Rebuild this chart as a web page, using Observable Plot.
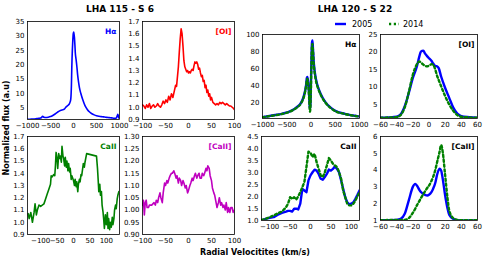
<!DOCTYPE html>
<html><head><meta charset="utf-8">
<script src="https://cdn.jsdelivr.net/npm/d3@7"></script>
<script src="https://cdn.jsdelivr.net/npm/@observablehq/plot@0.6"></script>
<style>
body{margin:0;background:#fff;}
#root{position:relative;width:489px;height:258px;overflow:hidden;font-family:"DejaVu Sans",sans-serif;}
.panel{position:absolute;}
.panel svg{overflow:visible;}
#overlay{position:absolute;left:0;top:0;}
</style></head><body><div id="root"></div>
<script>
// ---------- LHA 115 - S 6 ----------
const s6HaV = [-1000,-950,-900,-850,-800,-750,-700,-670,-640,-600,-550,-500,-450,-400,-350,-300,-250,-200,-160,-130,-100,-80,-60,-45,-37,-25,-15,-5,5,12,20,30,40,55,73,90,110,130,160,200,250,300,350,400,450,500,550,600,650,700,750,800,850,900,930,950,965,980,1000];
const s6HaF = [1.1,1.1,1.15,1.2,1.3,1.4,1.6,2.1,1.8,1.7,1.8,2.0,2.4,2.9,3.5,4.0,4.3,4.6,5.4,5.8,6.2,6.8,8.0,13,19,25,28.5,30.8,31.3,30.5,29.5,27,24,22,19.4,16.5,14,12,10,7.9,5.8,4.5,3.6,3.0,2.6,2.3,2.1,2.0,1.9,1.8,1.7,1.6,1.5,1.4,1.5,2.3,2.8,1.8,1.3];

const s6OiV = [-100,-97,-94,-91,-88,-85,-82,-79,-76,-73,-70,-67,-64,-61,-58,-55,-52,-49,-46,-43,-40,-37,-34,-31,-28,-26,-24,-22,-20,-18,-16,-14,-12,-10,-8,-6,-4,-2,0,2,4,6,8,10,12,14,16,18,20,22,24,26,28,30,32,34,36,38,40,42,44,46,48,50,53,56,59,62,65,68,71,74,77,80,83,86,89,92,95,98,100];
const s6OiF = [1.02,1.01,0.99,1.02,1.00,1.03,0.99,1.01,1.02,1.00,1.01,1.03,1.01,1.00,1.02,1.05,1.03,1.06,1.04,1.09,1.06,1.11,1.08,1.13,1.18,1.17,1.25,1.33,1.45,1.56,1.64,1.60,1.50,1.38,1.33,1.31,1.29,1.30,1.28,1.29,1.28,1.30,1.31,1.30,1.34,1.37,1.36,1.37,1.35,1.31,1.32,1.28,1.25,1.26,1.21,1.22,1.16,1.18,1.12,1.14,1.09,1.11,1.06,1.08,1.04,1.03,1.02,1.03,1.02,1.04,1.03,1.04,1.03,1.02,1.03,1.02,1.01,1.01,1.00,0.99,0.98];

const s6CaV = [-138,-135,-130,-125,-120,-117,-113,-110,-105,-100,-95,-90,-85,-80,-75,-70,-68,-65,-60,-57,-55,-53,-50,-48,-45,-42,-40,-37,-35,-32,-30,-27,-25,-22,-20,-17,-15,-12,-10,-7,-5,0,3,5,8,10,13,15,18,20,23,25,30,33,35,40,70,73,75,77,80,82,85,87,90,92,94,97,100,103,105,107,110,112,115,118,120,123,125,128,130,133,135,138];
const s6CaF = [1.07,1.03,1.08,1.00,1.08,1.15,1.06,1.10,1.14,1.13,1.14,1.15,1.19,1.23,1.27,1.31,1.38,1.37,1.39,1.38,1.46,1.57,1.52,1.44,1.56,1.52,1.54,1.49,1.62,1.54,1.52,1.46,1.53,1.45,1.50,1.42,1.48,1.41,1.44,1.35,1.38,1.34,1.30,1.35,1.29,1.33,1.25,1.31,1.35,1.33,1.39,1.38,1.48,1.45,1.49,1.56,1.54,1.44,1.35,1.25,1.31,1.22,1.25,1.14,1.08,1.02,0.95,1.06,0.98,1.08,0.95,1.03,0.94,1.00,0.96,1.04,0.98,1.03,1.10,1.14,1.11,1.19,1.22,1.25];

const s6CaiiV = [-100,-98,-96,-94,-92,-90,-87,-85,-80,-75,-72,-70,-67,-65,-62,-60,-57,-55,-52,-50,-47,-45,-42,-40,-37,-35,-32,-30,-27,-25,-22,-20,-17,-15,-12,-10,-7,-5,-2,0,3,5,8,10,13,15,18,20,23,25,28,30,33,35,38,40,42,45,47,50,52,55,57,60,62,65,67,70,72,75,77,80,82,85,87,90,92,95,97,100];
const s6CaiiF = [1.02,1.04,0.98,1.03,1.04,1.01,1.01,1.02,1.02,1.03,1.02,1.04,1.03,1.05,1.07,1.05,1.03,1.07,1.11,1.10,1.12,1.11,1.13,1.14,1.15,1.15,1.16,1.15,1.13,1.14,1.11,1.13,1.12,1.10,1.12,1.11,1.09,1.10,1.07,1.08,1.10,1.11,1.13,1.12,1.14,1.15,1.13,1.14,1.15,1.13,1.13,1.15,1.14,1.15,1.17,1.16,1.18,1.17,1.14,1.12,1.09,1.07,1.06,1.03,1.01,1.03,1.05,1.02,1.03,1.01,1.02,1.00,1.03,0.99,1.01,0.99,1.01,1.01,0.99,1.00];

// ---------- LHA 120 - S 22 ----------
const years = ["2005", "2014"];
const s22HaV = [-1000,-800,-600,-400,-300,-200,-150,-120,-100,-85,-75,-60,-45,-35,-25,-18,-10,0,10,20,30,40,60,80,100,150,200,300,400,500,700,1000];
const s22Ha2005 = [2.6,4.5,6.5,10.3,14,20,27,34,41,49,50,45,35,24,14,12,20,45,72,90,93,84,65,55,48,37,30,20,14,10,6.5,3.4];
const s22Ha2014 = [2.4,4.3,6.3,10,13.6,19.5,26,33,40,47,48,43,32,21,11,9,17,40,68,86,89,81,63,53,46,36,29,19.5,13.6,9.7,6.3,3.2];

const s22OiV = [-60,-50,-40,-35,-30,-25,-20,-15,-12,-10,-7,-5,-3,0,3,5,8,10,12,15,20,25,30,35,40,50,60];
const s22Oi2005 = [1.2,1.3,1.5,2.2,4.5,8.3,12.6,15.9,18.7,20.1,20.4,19.6,19.0,18.2,17.5,16.8,16.0,15.9,15.4,13,9.7,6.9,4.1,2.4,1.7,1.4,1.2];
const s22Oi2014 = [1.2,1.3,1.4,2.0,4.2,8.5,13.5,16.5,17.3,17.0,16.4,16.1,15.9,16.1,16.5,16.4,14.8,13.2,12.0,10.2,7.4,5.0,3.2,2.0,1.5,1.3,1.2];

const s22CaV = [-120,-110,-100,-90,-80,-70,-60,-55,-50,-45,-40,-35,-30,-25,-20,-15,-10,-5,0,5,10,15,20,25,30,35,40,45,50,55,60,65,70,75,80,85,90,95,100,105,110,115,120];
const s22Ca2005 = [1.0,1.07,1.11,1.14,1.24,1.32,1.37,1.40,1.40,1.37,1.49,1.49,1.46,1.70,2.32,2.25,2.18,2.67,2.88,3.01,3.12,3.08,2.94,2.74,2.70,2.81,2.94,3.12,3.08,3.15,3.26,3.15,3.01,2.67,2.32,1.97,1.76,1.67,1.70,1.76,1.90,2.07,2.25];
const s22Ca2014 = [1.02,1.07,1.14,1.21,1.30,1.37,1.55,1.70,1.97,1.90,1.97,1.87,2.01,2.18,2.39,2.60,3.22,3.87,3.82,3.64,3.78,3.43,3.15,2.88,2.81,3.01,3.29,3.60,3.50,3.36,3.29,3.22,3.01,2.74,2.25,1.97,1.70,1.63,1.63,1.70,1.83,2.01,2.18];

const s22CaiiV = [-60,-40,-35,-30,-25,-20,-17,-15,-12,-10,-5,-2,0,3,5,8,10,13,15,17,20,23,25,30,35,40,60];
const s22Caii2005 = [1.02,1.04,1.1,1.4,2.2,3.0,3.18,3.08,2.83,2.69,2.53,2.49,2.53,2.69,2.88,3.28,3.72,4.08,3.98,3.48,2.49,1.70,1.34,1.10,1.02,1.00,1.00];
const s22Caii2014 = [1.02,1.03,1.03,1.04,1.14,1.46,1.70,1.90,2.15,2.33,2.73,2.95,3.08,3.35,3.58,4.05,4.47,5.07,5.50,5.07,3.68,2.29,1.60,1.14,1.04,1.02,1.02];

// ---------- tick values & labels ----------
const ticksV1000 = [-1000,-500,0,500,1000];
const ticksV100 = [-100,-50,0,50,100];
const ticksV60 = [-60,-40,-20,0,20,40,60];
const ticksHaS6 = [5,10,15,20,25,30,35];
const ticksOiS6 = [0.9,1.0,1.1,1.2,1.3,1.4,1.5,1.6,1.7];
const ticksCaiiS6 = [0.90,0.95,1.00,1.05,1.10,1.15,1.20,1.25,1.30];
const ticksHaS22 = [20,40,60,80,100];
const ticksOiS22 = [5,10,15,20,25];
const ticksCaS22 = [1.0,1.5,2.0,2.5,3.0,3.5,4.0,4.5];
const ticksCaiiS22 = [1,2,3,4,5,6];
const titles = ["LHA 115 - S 6", "LHA 120 - S 22"];
const xTitle = "Radial Velocitites (km/s)";
const yTitle = "Normalized flux (a.u)";

// ---------- drawing ----------
const C = {blue:"#0000ff", green:"#008000", red:"#ff0000", magenta:"#bf00bf"};
const root = document.getElementById("root");
const minus = s => s.replace("-", "\u2212");
const fInt = d => minus(String(d));
const f1 = d => minus(d.toFixed(1));
const f2 = d => minus(d.toFixed(2));

function panel(o) {
  const ml = 30, mr = 12, mt = 6, mb = 16;
  const marks = [];
  for (const s of o.series) {
    const data = s.v.map((v, i) => ({v, f: s.f[i]}));
    marks.push(Plot.line(data, {x: "v", y: "f", stroke: s.color, strokeWidth: s.width,
      strokeDasharray: s.dash, curve: s.curve || "linear", clip: true}));
  }
  marks.push(Plot.frame({stroke: "#000", strokeWidth: 0.8}));
  marks.push(Plot.text([o.label], {text: d => d, frameAnchor: "top-right", dx: -3, dy: 7,
    fill: o.labelColor, fontWeight: "bold", fontSize: 7.5}));
  const chart = Plot.plot({
    width: o.w + ml + mr, height: o.h + mt + mb,
    marginLeft: ml, marginRight: mr, marginTop: mt, marginBottom: mb,
    x: {domain: o.xDomain, ticks: o.xTicks, tickFormat: fInt, label: null, tickSize: 0, tickPadding: 4},
    y: {domain: o.yDomain, ticks: o.yTicks, tickFormat: o.yFmt, label: null, tickSize: 0, tickPadding: 3},
    style: {fontFamily: "DejaVu Sans", fontSize: "7px", color: "#000", background: "transparent", overflow: "visible"},
    marks
  });
  const div = document.createElement("div");
  div.className = "panel";
  div.style.left = (o.left - ml) + "px";
  div.style.top = (o.top - mt) + "px";
  div.appendChild(chart);
  root.appendChild(div);
}

const LW = 1.6, RW = 2.4;
panel({left: 27, top: 21, w: 92, h: 98, xDomain: [-1000, 1000], yDomain: [1, 35], xTicks: ticksV1000, yTicks: ticksHaS6, yFmt: fInt,
  series: [{v: s6HaV, f: s6HaF, color: C.blue, width: LW, curve: "monotone-x"}], label: "Hα", labelColor: C.blue});
panel({left: 142, top: 21, w: 92, h: 98, xDomain: [-100, 100], yDomain: [0.9, 1.7], xTicks: ticksV100, yTicks: ticksOiS6, yFmt: f1,
  series: [{v: s6OiV, f: s6OiF, color: C.red, width: LW}], label: "[OI]", labelColor: C.red});
panel({left: 27, top: 136, w: 92, h: 98, xDomain: [-140, 140], yDomain: [0.9, 1.7], xTicks: ticksV100, yTicks: ticksOiS6, yFmt: f1,
  series: [{v: s6CaV, f: s6CaF, color: C.green, width: LW}], label: "CaII", labelColor: C.green});
panel({left: 142, top: 136, w: 92, h: 98, xDomain: [-100, 100], yDomain: [0.9, 1.3], xTicks: ticksV100, yTicks: ticksCaiiS6, yFmt: f2,
  series: [{v: s6CaiiV, f: s6CaiiF, color: C.magenta, width: LW}], label: "[CaII]", labelColor: C.magenta});

const dash = "2.2,2.6";
panel({left: 262, top: 34, w: 97, h: 84, xDomain: [-1000, 1000], yDomain: [1, 100], xTicks: ticksV1000, yTicks: ticksHaS22, yFmt: fInt,
  series: [{v: s22HaV, f: s22Ha2005, color: C.blue, width: RW, curve: "monotone-x"},
           {v: s22HaV, f: s22Ha2014, color: C.green, width: RW, dash, curve: "monotone-x"}], label: "Hα", labelColor: "#000"});
panel({left: 380, top: 34, w: 97, h: 84, xDomain: [-60, 60], yDomain: [1, 25], xTicks: ticksV60, yTicks: ticksOiS22, yFmt: fInt,
  series: [{v: s22OiV, f: s22Oi2005, color: C.blue, width: RW, curve: "monotone-x"},
           {v: s22OiV, f: s22Oi2014, color: C.green, width: RW, dash, curve: "monotone-x"}], label: "[OI]", labelColor: "#000"});
panel({left: 261, top: 136, w: 98, h: 84, xDomain: [-120, 120], yDomain: [1, 4.5], xTicks: ticksV100, yTicks: ticksCaS22, yFmt: f1,
  series: [{v: s22CaV, f: s22Ca2005, color: C.blue, width: RW},
           {v: s22CaV, f: s22Ca2014, color: C.green, width: RW, dash}], label: "CaII", labelColor: "#000"});
panel({left: 380, top: 136, w: 97, h: 84, xDomain: [-60, 60], yDomain: [1, 6], xTicks: ticksV60, yTicks: ticksCaiiS22, yFmt: fInt,
  series: [{v: s22CaiiV, f: s22Caii2005, color: C.blue, width: RW, curve: "monotone-x"},
           {v: s22CaiiV, f: s22Caii2014, color: C.green, width: RW, dash, curve: "monotone-x"}], label: "[CaII]", labelColor: "#000"});

// ---------- titles, axis labels, legend ----------
const NS = "http://www.w3.org/2000/svg";
const ov = document.createElementNS(NS, "svg");
ov.setAttribute("id", "overlay");
ov.setAttribute("width", 489); ov.setAttribute("height", 258);
ov.setAttribute("font-family", "DejaVu Sans");
function txt(x, y, s, attrs) {
  const t = document.createElementNS(NS, "text");
  t.setAttribute("x", x); t.setAttribute("y", y); t.textContent = s;
  for (const k in attrs) t.setAttribute(k, attrs[k]);
  ov.appendChild(t); return t;
}
function ln(x1, x2, y, stroke, dash) {
  const l = document.createElementNS(NS, "line");
  l.setAttribute("x1", x1); l.setAttribute("x2", x2); l.setAttribute("y1", y); l.setAttribute("y2", y);
  l.setAttribute("stroke", stroke); l.setAttribute("stroke-width", RW);
  if (dash) l.setAttribute("stroke-dasharray", dash);
  ov.appendChild(l);
}
txt(120, 12, titles[0], {"font-size": 9, "font-weight": "bold", "text-anchor": "middle"});
txt(355, 12, titles[1], {"font-size": 9, "font-weight": "bold", "text-anchor": "middle"});
txt(255, 255, xTitle, {"font-size": 8, "font-weight": "bold", "text-anchor": "middle"});
txt(0, 0, yTitle, {"font-size": 8, "font-weight": "bold", "text-anchor": "middle", transform: "translate(9,128) rotate(-90)"});
ln(335, 346, 24, C.blue);
txt(352, 27, years[0], {"font-size": 8});
ln(389, 399, 24, C.green, dash);
txt(403, 27, years[1], {"font-size": 8});
root.appendChild(ov);
</script></body></html>
